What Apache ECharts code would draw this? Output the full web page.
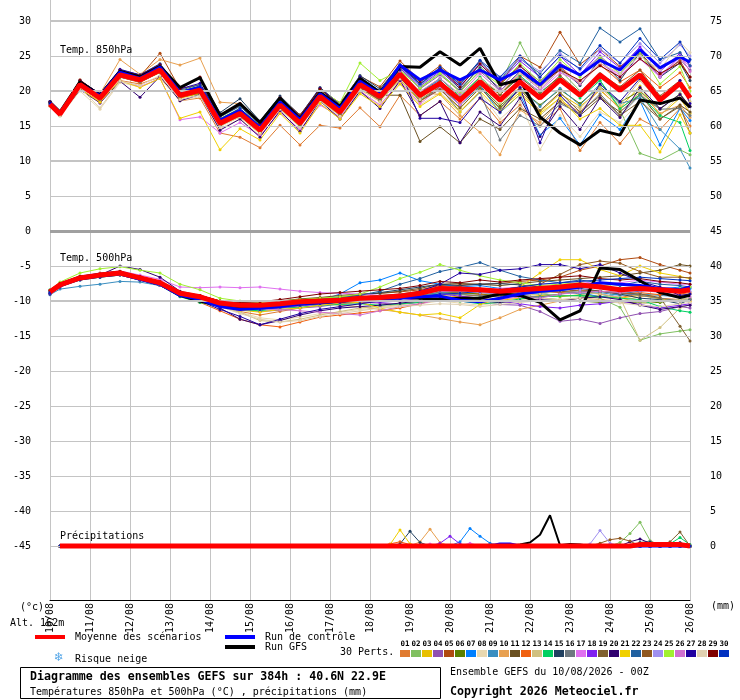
<!DOCTYPE html>
<html><head><meta charset="utf-8">
<script src="https://cdn.jsdelivr.net/npm/echarts@6/dist/echarts.min.js"></script>
<style>html,body{margin:0;padding:0;background:#fff}#c{width:740px;height:700px}</style>
</head><body><div id="c"></div>
<script>
// ---------- axes / categories ----------
const dateLabels = ['10/08','11/08','12/08','13/08','14/08','15/08','16/08','17/08','18/08','19/08','20/08','21/08','22/08','23/08','24/08','25/08','26/08'];
const hours = [0,6,18,30,42,54,66,78,90,102,114,126,138,150,162,174,186,198,210,222,234,246,258,270,282,294,306,318,330,342,354,366,378,384];
const precipHours = [6,192,198,204,210,216,222,228,234,240,246,252,258,264,270,276,282,288,294,300,306,312,318,324,330,336,342,348,354,360,366,372,378,384];
const leftTicks = [30,25,20,15,10,5,0,-5,-10,-15,-20,-25,-30,-35,-40,-45];
const rightTicks = [75,70,65,60,55,50,45,40,35,30,25,20,15,10,5,0];
const pertNames = ['01','02','03','04','05','06','07','08','09','10','11','12','13','14','15','16','17','18','19','20','21','22','23','24','25','26','27','28','29','30'];
const pertColors = ['#e07b30','#80c060','#e8c000','#9050b0','#b04a10','#5a8000','#0080ff','#e8d8b0','#3a8ec0','#e8a050','#6a5020','#f06010','#d0c080','#00d060','#204060','#6e7880','#e070f0','#8020f0','#806030','#300070','#f0d000','#2060a0','#905820','#a090f0','#a0f030','#d070d0','#2000a0','#e0d0b0','#800000','#0030c0'];

// ---------- 850 hPa temperature (°C) ----------
const mean850 = [18.1,16.7,20.9,19.0,22.3,21.6,23.0,19.4,20.1,15.4, 16.8,14.4,18.0,15.4,19.2,17.0,20.9,19.2,22.4,19.4, 21.1,18.7,21.3,18.7,21.3,19.0,21.6,19.4,22.3,20.1, 22.3,18.7,21.1,19.0];
const ctrl850 = [18.3,16.9,21.0,19.3,22.7,21.8,23.4,19.8,20.5,15.8, 17.2,14.8,18.4,15.9,19.6,17.5,21.4,19.6,23.7,21.6, 23.0,21.6,23.0,21.6,23.0,20.9,23.7,22.3,24.4,23.0, 25.9,23.3,24.9,24.1];
const gfs850 = [18.4,17.0,21.3,19.4,22.8,22.0,23.5,20.5,21.9,16.5, 18.2,15.5,19.0,16.0,19.8,17.8,21.8,19.8,23.5,23.4, 25.6,23.7,26.1,20.9,21.6,16.3,14.0,12.3,14.4,13.7, 18.7,18.2,19.0,17.7];
const t850_01 = [17.9,16.6,20.2,18.6,21.5,21.0,22.0,18.6,19.0,14.0, 13.4,11.9,15.1,12.3,15.1,14.7,17.6,14.9,19.4,16.5, 18.5,16.0,19.0,15.5,18.0,15.0,17.5,11.5,15.5,12.5, 16.0,14.5,17.5,15.0];
const t850_02 = [18.2,16.8,21.2,19.3,22.5,21.9,23.3,19.8,20.6,15.9, 17.4,14.9,18.6,15.8,19.9,17.6,21.8,19.9,23.0,20.5, 22.6,20.0,23.5,21.0,26.9,21.5,23.0,20.0,21.5,17.3, 11.1,10.1,11.6,10.9];
const t850_03 = [18.0,16.7,20.5,18.8,22.0,21.3,22.6,19.0,19.6,15.0, 16.3,13.9,17.5,14.9,18.6,16.5,20.2,18.5,21.6,18.5, 20.3,17.5,20.5,17.4,19.8,17.0,19.6,17.8,20.1,17.6, 20.7,16.5,19.0,16.8];
const t850_04 = [18.3,16.8,21.3,19.4,22.8,22.0,23.6,19.9,20.6,16.0, 17.5,15.0,18.8,16.2,20.0,17.8,21.8,20.0,23.3,20.3, 22.3,20.0,22.8,20.4,23.5,21.4,24.0,22.3,25.0,22.5, 25.4,22.0,24.5,23.0];
const t850_05 = [18.5,16.9,21.6,19.5,23.0,22.1,25.4,20.3,20.9,16.3, 17.9,15.2,19.1,16.6,20.2,18.3,22.1,20.6,24.3,21.5, 23.6,21.2,24.3,21.0,25.0,23.4,28.4,23.8,26.0,23.5, 25.5,22.4,24.3,22.0];
const t850_06 = [18.0,16.6,20.7,18.8,22.0,21.3,22.7,19.1,19.7,15.1, 16.4,14.1,17.6,15.0,18.8,16.6,20.4,18.7,21.9,18.8, 20.6,18.0,20.7,17.9,20.3,18.0,20.2,18.2,20.6,18.4, 20.0,17.4,19.6,17.8];
const t850_07 = [18.2,16.8,21.0,19.2,22.4,21.7,23.1,19.5,20.3,15.6, 17.0,14.6,18.2,15.6,19.5,17.3,21.2,19.6,22.9,19.8, 21.6,18.5,20.8,16.9,19.5,13.7,16.1,12.3,16.6,14.5, 18.6,12.3,17.5,15.8];
const t850_08 = [17.8,16.4,20.0,17.4,21.2,20.6,21.8,18.6,19.2,14.6, 16.0,13.6,17.0,14.4,18.2,16.0,19.8,18.0,21.2,18.0, 19.8,17.2,19.8,16.0,18.5,11.6,16.5,13.5,17.0,15.5, 18.5,16.5,19.5,17.0];
const t850_09 = [18.1,16.7,20.8,19.0,22.2,21.5,22.9,19.3,20.0,15.3, 16.7,14.3,17.9,15.3,19.0,16.9,20.7,19.0,22.1,19.0, 20.8,18.0,20.6,17.5,20.5,17.8,20.4,18.0,21.0,18.2, 19.0,14.5,11.7,9.0];
const t850_10 = [18.4,16.9,21.4,19.6,24.5,22.4,24.5,23.7,24.7,18.4, 18.2,15.5,19.0,16.2,20.4,18.0,21.6,19.5,22.8,19.8, 19.5,16.5,14.1,10.9,17.3,15.5,18.6,17.0,20.3,17.4, 19.8,16.8,18.0,16.2];
const t850_11 = [18.2,16.8,21.1,19.1,22.5,21.8,23.2,19.6,20.3,15.6, 17.0,14.6,18.3,15.5,19.4,17.2,21.2,19.4,19.4,12.8, 14.9,12.6,16.0,14.5,17.5,16.0,18.5,16.5,19.0,17.0, 19.5,16.0,18.0,17.0];
const t850_12 = [18.0,16.6,20.6,18.7,22.0,21.2,22.7,19.0,19.8,15.0, 16.4,14.0,17.6,15.0,18.8,16.5,20.5,18.6,21.8,19.0, 20.5,18.4,21.5,19.5,22.5,20.6,23.5,21.0,23.8,21.3, 23.0,20.5,22.6,20.5];
const t850_13 = [18.3,16.9,21.2,19.3,22.6,21.9,23.4,19.8,20.4,15.9, 17.3,14.9,18.5,15.9,19.7,17.5,21.4,19.7,22.9,19.9, 21.8,19.4,22.0,18.2,20.5,16.5,19.0,17.5,20.5,18.0, 21.5,18.5,21.0,18.5];
const t850_14 = [18.2,16.8,21.0,19.1,22.5,21.8,23.2,19.6,20.3,15.6, 17.0,14.6,18.2,15.6,19.4,17.2,21.1,19.4,22.6,19.8, 21.8,19.2,22.0,19.5,22.2,19.8,22.0,19.0,21.5,17.5, 19.5,16.5,15.5,11.5];
const t850_15 = [18.5,17.0,21.5,19.6,23.0,22.3,23.9,20.3,21.9,16.9, 18.9,15.7,19.3,16.5,20.5,18.1,22.2,20.3,23.8,21.0, 23.0,20.3,23.3,20.0,22.8,20.5,23.3,20.8,24.5,21.5, 25.5,22.0,24.0,21.5];
const t850_16 = [18.0,16.6,20.6,18.8,22.0,21.3,22.7,19.2,19.9,15.2, 16.5,14.2,17.8,15.2,19.0,16.7,20.5,18.8,22.0,18.6, 20.5,17.0,19.8,13.0,16.5,15.0,18.2,16.8,19.6,16.5, 19.4,17.4,17.5,16.5];
const t850_17 = [18.0,16.5,20.4,18.3,21.5,20.6,21.8,15.9,16.3,14.0, 15.5,13.6,17.0,14.5,18.0,16.3,20.0,18.0,21.4,18.2, 20.4,18.0,21.0,18.8,21.8,20.0,22.6,21.4,24.0,22.3, 24.6,22.0,24.8,23.5];
const t850_18 = [18.3,16.9,21.2,19.3,22.7,22.0,23.5,19.9,20.6,16.0, 17.4,15.0,18.7,16.1,19.8,17.6,21.6,19.9,23.3,20.7, 22.8,20.6,23.8,21.3,24.3,22.0,25.0,22.3,25.6,23.3, 26.3,22.8,25.4,23.6];
const t850_19 = [18.1,16.7,20.8,19.0,22.2,21.5,22.9,19.4,20.0,15.3, 16.7,14.3,17.8,15.2,18.9,16.7,20.5,18.7,21.9,18.6, 20.2,17.6,20.4,17.6,20.2,17.2,19.8,17.0,19.3,16.5, 18.5,16.0,17.8,14.0];
const t850_20 = [18.0,16.5,20.2,18.3,21.4,19.1,22.1,18.6,19.5,14.4, 16.0,13.4,17.2,14.2,18.6,16.0,20.0,17.5,21.5,16.5, 18.5,12.6,17.0,15.0,19.0,13.5,17.8,14.5,19.0,16.2, 20.5,17.5,19.5,17.8];
const t850_21 = [17.9,16.5,20.3,18.4,21.5,20.5,21.8,16.1,17.0,11.6, 14.6,13.0,16.8,14.0,18.2,16.0,19.6,17.8,21.0,17.8, 19.6,17.0,20.0,17.0,19.5,16.8,19.0,16.0,17.5,15.1, 15.1,11.3,16.6,14.0];
const t850_22 = [18.4,17.0,21.4,19.4,23.0,22.2,23.8,20.1,20.9,16.3, 17.8,15.2,18.9,16.3,20.3,17.9,22.0,20.0,23.6,20.8, 23.2,20.9,24.2,21.6,24.6,22.5,25.8,24.0,29.0,27.0, 28.9,24.5,25.5,23.6];
const t850_23 = [18.2,16.8,21.0,19.1,22.4,21.7,23.1,19.5,20.2,15.5, 16.9,14.5,18.1,15.5,19.3,17.1,21.0,19.3,22.5,19.6, 21.4,19.0,21.8,19.5,22.0,19.6,22.2,19.8,22.5,20.6, 23.0,19.3,21.5,19.3];
const t850_24 = [18.3,16.8,21.1,19.2,22.6,21.8,23.3,19.7,20.4,15.8, 17.2,14.9,18.6,16.0,19.9,17.7,21.7,20.0,23.4,20.8, 23.0,20.8,24.0,21.9,24.6,22.8,25.4,23.0,26.0,24.0, 26.8,24.0,26.6,25.0];
const t850_25 = [18.3,16.9,21.3,19.4,22.8,22.0,23.6,20.0,20.7,16.1, 17.5,15.1,18.8,16.4,20.2,18.3,24.0,21.5,23.0,20.4, 22.5,19.8,23.0,20.8,23.9,21.3,24.5,22.0,24.8,22.5, 25.5,21.0,23.5,20.0];
const t850_26 = [18.1,16.7,20.9,19.0,22.3,21.6,23.0,19.4,20.0,15.4, 16.8,14.5,18.1,15.5,19.4,17.3,21.2,19.5,22.7,19.9, 21.8,19.5,22.5,20.0,22.6,20.2,23.0,21.0,24.0,22.0, 24.6,22.2,25.0,22.8];
const t850_27 = [18.5,17.0,21.5,19.6,23.1,22.3,23.8,20.3,21.1,16.4, 18.1,15.3,19.0,16.4,20.4,18.0,22.0,19.8,23.0,16.1, 16.1,15.5,19.0,17.0,20.5,12.6,19.4,16.5,21.0,18.5, 21.8,18.5,21.5,18.2];
const t850_28 = [17.9,16.5,20.4,17.6,21.4,20.8,22.2,18.8,19.4,14.9, 16.3,14.0,17.4,14.8,18.6,16.4,20.2,18.5,21.7,18.8, 20.9,18.8,21.8,19.8,22.5,20.5,23.0,21.3,24.0,22.5, 25.0,23.0,27.0,25.5];
const t850_29 = [18.4,17.0,21.5,19.5,22.9,22.2,23.7,20.3,22.0,16.6, 18.2,15.4,19.0,16.4,20.3,17.8,21.7,19.9,23.5,21.3, 23.2,20.6,23.9,21.0,23.6,21.0,23.0,21.5,23.6,22.0, 24.6,22.5,24.0,22.0];
const t850_30 = [18.3,16.9,21.2,19.3,22.7,21.9,23.5,19.9,20.7,16.0, 17.5,15.0,18.7,16.1,19.9,17.7,21.7,19.8,23.5,21.0, 23.4,21.0,24.4,22.0,25.0,22.0,25.0,23.2,26.5,24.0, 27.5,24.5,27.0,24.5];

// ---------- 500 hPa temperature (°C) ----------
const mean500 = [-8.7,-7.7,-6.7,-6.3,-6.0,-6.7,-7.4,-8.9,-9.4,-10.3, -10.6,-10.6,-10.4,-10.1,-10.0,-9.9,-9.6,-9.5,-9.3,-8.9, -8.2,-8.3,-8.4,-8.6,-8.4,-8.2,-8.0,-7.7,-8.0,-8.4, -8.2,-8.4,-8.6,-8.4];
const ctrl500 = [-8.8,-7.8,-6.8,-6.4,-6.1,-6.9,-7.6,-9.2,-9.8,-10.8, -11.2,-11.0,-10.8,-10.4,-10.2,-10.0,-9.8,-9.6,-9.6,-9.4, -9.3,-9.9,-10.1,-9.6,-9.0,-8.6,-8.4,-8.0,-7.4,-7.6, -7.8,-8.2,-8.4,-8.0];
const gfs500 = [-8.6,-7.6,-6.6,-6.2,-5.9,-6.7,-7.5,-9.2,-10.0,-10.6, -10.8,-10.8,-10.6,-10.4,-10.2,-10.0,-9.8,-9.6,-9.4,-9.6, -9.8,-9.6,-9.6,-9.0,-9.2,-10.2,-12.7,-11.4,-5.3,-5.5, -7.1,-8.8,-9.5,-9.2];
const t500_01 = [-8.5,-7.5,-6.5,-6.0,-5.8,-6.5,-7.3,-8.7,-9.5,-10.7, -11.5,-12.0,-11.5,-11.0,-10.6,-10.3,-10.0,-9.6,-9.4,-9.0, -8.6,-8.9,-9.0,-9.4,-8.9,-8.7,-8.8,-8.5,-9.0,-9.5, -9.0,-9.6,-9.8,-10.0];
const t500_02 = [-8.8,-7.8,-6.8,-6.3,-6.0,-6.6,-7.5,-9.2,-9.6,-10.6, -10.9,-11.2,-10.8,-10.6,-10.2,-10.0,-9.8,-9.7,-9.5,-9.2, -8.8,-9.0,-9.3,-9.0,-8.8,-9.0,-9.2,-9.3,-9.6,-10.9, -15.6,-14.7,-14.3,-14.1];
const t500_03 = [-8.6,-7.5,-6.5,-6.2,-5.9,-6.6,-7.3,-8.8,-9.6,-10.5, -11.0,-11.1,-11.0,-10.7,-10.3,-10.4,-10.1,-9.9,-10.0,-9.6, -9.2,-9.4,-9.6,-9.9,-9.6,-9.2,-9.4,-9.1,-9.3,-9.6, -9.2,-9.7,-10.0,-10.1];
const t500_04 = [-8.8,-7.8,-6.9,-6.5,-6.1,-6.9,-7.5,-9.0,-9.8,-10.6, -11.2,-11.5,-11.3,-11.0,-10.8,-10.4,-10.2,-10.3,-10.5,-10.2, -9.8,-9.9,-10.2,-10.5,-10.6,-11.5,-12.9,-12.6,-13.2,-12.4, -11.8,-11.5,-10.8,-11.0];
const t500_05 = [-8.5,-7.5,-6.6,-6.1,-5.8,-6.5,-7.2,-8.6,-9.2,-10.0, -10.3,-10.4,-10.1,-9.8,-9.6,-9.4,-9.1,-8.9,-8.7,-8.4, -7.8,-7.7,-7.6,-7.5,-7.2,-7.0,-6.6,-5.6,-5.0,-4.1, -3.8,-4.8,-5.6,-6.0];
const t500_06 = [-8.7,-7.7,-6.7,-6.4,-6.1,-6.8,-7.5,-9.0,-9.5,-10.4, -10.7,-10.9,-10.6,-10.3,-10.2,-10.0,-9.8,-9.6,-9.5,-9.2, -8.7,-8.8,-9.0,-9.3,-9.4,-9.6,-9.8,-10.0,-10.2,-10.1, -10.3,-10.2,-9.8,-9.6];
const t500_07 = [-8.4,-7.5,-6.6,-6.2,-6.0,-6.6,-7.3,-8.8,-9.5,-10.6, -11.0,-11.2,-10.8,-10.4,-10.0,-9.0,-7.4,-7.0,-6.0,-7.1, -7.6,-8.0,-7.8,-8.2,-8.8,-9.0,-8.5,-8.8,-9.4,-9.0, -8.6,-8.3,-8.0,-8.2];
const t500_08 = [-8.9,-7.9,-6.9,-6.6,-6.3,-7.0,-7.7,-9.3,-9.8,-10.8, -11.6,-12.4,-12.7,-12.3,-11.8,-11.6,-11.2,-11.0,-10.6,-10.4, -10.0,-10.3,-10.6,-10.2,-9.8,-9.6,-9.8,-9.5,-9.9,-10.2, -10.4,-10.0,-9.8,-9.6];
const t500_09 = [-9.1,-8.3,-7.9,-7.6,-7.2,-7.3,-7.8,-9.2,-9.8,-10.7, -11.0,-11.0,-10.7,-10.4,-10.3,-10.1,-9.7,-9.8,-9.6,-9.3, -8.8,-8.6,-8.5,-8.9,-8.6,-8.8,-8.6,-9.0,-8.8,-9.2, -9.0,-9.2,-9.4,-9.0];
const t500_10 = [-8.6,-7.6,-6.6,-6.2,-5.9,-6.6,-7.3,-8.8,-9.3,-10.2, -10.5,-10.6,-10.5,-10.3,-10.4,-10.6,-10.8,-11.2,-11.6,-12.0, -12.5,-13.0,-13.4,-12.4,-11.2,-10.6,-10.0,-9.6,-9.8,-10.0, -9.4,-9.0,-9.2,-9.0];
const t500_11 = [-8.5,-7.6,-6.5,-6.1,-5.8,-6.5,-7.3,-8.8,-9.2,-10.0, -10.2,-10.1,-10.0,-9.7,-9.5,-9.2,-9.0,-8.9,-8.6,-8.2, -7.6,-7.5,-7.6,-7.8,-7.5,-7.2,-7.0,-6.8,-6.6,-6.4, -6.0,-5.6,-4.8,-5.0];
const t500_12 = [-8.6,-7.6,-6.8,-6.4,-6.2,-7.0,-7.8,-9.3,-10.2,-11.4, -12.6,-13.4,-13.7,-13.0,-12.3,-12.0,-11.7,-11.4,-11.0,-10.4, -9.6,-9.4,-9.1,-9.4,-9.0,-8.6,-8.8,-8.4,-8.6,-9.0, -8.8,-9.1,-9.0,-8.8];
const t500_13 = [-8.8,-7.8,-6.8,-6.4,-6.1,-6.8,-7.6,-9.1,-9.7,-10.8, -11.6,-12.8,-13.0,-12.6,-12.0,-11.5,-11.0,-10.8,-10.5,-10.0, -9.4,-9.6,-9.8,-9.6,-9.2,-9.0,-8.6,-8.8,-9.0,-9.5, -15.6,-13.8,-11.0,-10.5];
const t500_14 = [-8.9,-7.9,-7.0,-6.6,-6.3,-7.0,-7.8,-9.4,-10.2,-10.8, -11.2,-11.4,-11.0,-10.9,-10.6,-10.5,-10.4,-10.6,-10.4,-10.2, -9.8,-10.0,-10.4,-10.2,-9.7,-9.4,-9.3,-9.2,-9.4,-9.6, -9.8,-10.8,-11.4,-11.6];
const t500_15 = [-8.7,-7.6,-6.6,-6.2,-5.9,-6.6,-7.3,-8.9,-9.4,-10.3, -10.6,-10.6,-10.4,-10.2,-10.0,-9.6,-9.2,-8.8,-8.4,-8.0, -7.6,-7.8,-7.6,-7.5,-7.7,-8.0,-8.4,-8.2,-8.6,-9.0, -9.6,-9.8,-10.4,-9.8];
const t500_16 = [-8.6,-7.6,-6.7,-6.3,-6.0,-6.7,-7.5,-9.0,-9.5,-10.4, -10.8,-11.0,-10.8,-10.5,-10.3,-10.1,-9.9,-9.6,-9.6,-9.3, -9.0,-9.1,-9.2,-9.4,-9.2,-9.4,-9.0,-8.7,-8.6,-8.9, -9.2,-9.6,-10.0,-9.8];
const t500_17 = [-8.5,-7.5,-6.4,-6.0,-5.7,-6.3,-6.9,-8.0,-8.1,-8.0, -8.1,-8.0,-8.3,-8.6,-8.8,-8.9,-9.0,-9.2,-9.4,-9.1, -8.6,-8.7,-8.4,-8.2,-8.0,-7.6,-7.4,-7.2,-7.6,-7.4, -7.0,-7.3,-7.6,-7.6];
const t500_18 = [-8.8,-7.7,-6.8,-6.4,-6.1,-6.8,-7.5,-9.0,-9.7,-10.6, -11.0,-11.2,-11.0,-10.7,-10.5,-10.3,-10.0,-10.2,-10.0,-9.6, -9.0,-9.3,-9.6,-10.0,-10.4,-10.8,-11.0,-10.6,-10.4,-10.0, -10.5,-11.0,-10.6,-10.4];
const t500_19 = [-8.7,-7.7,-6.6,-6.2,-5.9,-6.6,-7.4,-8.9,-9.4,-10.3, -10.6,-10.7,-10.5,-10.2,-10.1,-9.9,-9.6,-9.5,-9.3,-9.0, -8.5,-8.6,-8.8,-9.0,-8.8,-8.6,-8.7,-8.4,-8.6,-8.8, -9.0,-9.5,-13.6,-15.7];
const t500_20 = [-9.0,-8.0,-6.9,-6.3,-5.0,-5.5,-6.6,-8.6,-9.6,-11.0, -12.6,-13.4,-12.8,-12.0,-11.4,-11.0,-10.8,-10.6,-10.3,-10.0, -9.6,-9.8,-10.0,-10.2,-10.0,-9.8,-10.0,-9.6,-9.4,-9.8, -10.6,-11.2,-10.8,-10.6];
const t500_21 = [-8.6,-7.6,-6.5,-6.1,-5.8,-6.6,-7.4,-8.9,-9.5,-10.6, -11.3,-11.6,-11.2,-11.0,-10.6,-10.3,-10.2,-11.0,-11.6,-12.0, -11.8,-12.4,-10.5,-9.6,-8.0,-6.0,-4.1,-4.1,-5.5,-6.4, -5.0,-6.0,-6.5,-6.8];
const t500_22 = [-8.6,-7.6,-6.6,-6.2,-5.9,-6.6,-7.4,-8.9,-9.4,-10.2, -10.5,-10.5,-10.3,-10.0,-9.7,-9.5,-9.2,-8.6,-7.6,-6.8, -5.8,-5.2,-4.5,-5.6,-6.5,-7.0,-7.4,-7.0,-7.4,-7.8, -7.2,-7.6,-7.8,-8.0];
const t500_23 = [-8.7,-7.7,-6.7,-6.3,-6.0,-6.7,-7.4,-8.9,-9.4,-10.3, -10.5,-10.5,-10.3,-10.0,-9.8,-9.6,-9.4,-9.2,-9.0,-8.6, -8.0,-8.0,-8.2,-8.4,-8.0,-7.6,-6.2,-4.8,-4.3,-4.6, -5.8,-6.6,-6.6,-6.7];
const t500_24 = [-8.8,-7.8,-6.8,-6.4,-6.1,-6.8,-7.6,-9.1,-9.6,-10.4, -10.8,-10.9,-10.6,-10.3,-10.1,-10.0,-9.7,-9.4,-9.1,-8.8, -8.4,-8.6,-8.8,-9.0,-8.6,-8.4,-8.2,-8.4,-8.0,-8.2, -8.6,-8.4,-8.2,-8.6];
const t500_25 = [-8.4,-7.3,-6.0,-5.4,-5.1,-5.6,-6.0,-7.6,-8.4,-9.6, -10.0,-10.2,-10.0,-9.8,-9.6,-9.4,-9.0,-8.0,-6.8,-5.9, -4.8,-5.6,-6.4,-7.0,-7.4,-7.8,-7.6,-7.4,-7.8,-7.6, -8.0,-8.4,-8.2,-8.0];
const t500_26 = [-8.9,-7.9,-6.9,-6.5,-6.2,-6.9,-7.7,-9.2,-9.7,-10.6, -11.0,-11.2,-11.2,-11.4,-11.6,-11.8,-12.0,-11.4,-10.8,-10.4, -9.8,-9.8,-10.0,-9.8,-9.4,-9.6,-9.0,-8.8,-8.6,-8.8, -8.4,-8.8,-9.2,-9.4];
const t500_27 = [-8.9,-7.9,-7.0,-6.6,-6.3,-7.0,-7.8,-9.3,-10.0,-11.2, -12.2,-13.4,-12.6,-11.8,-11.2,-10.8,-10.4,-10.0,-9.4,-8.6, -7.6,-6.0,-6.2,-5.6,-5.4,-4.8,-4.8,-5.4,-4.8,-6.0, -7.2,-8.0,-9.2,-9.0];
const t500_28 = [-8.7,-7.7,-6.8,-6.4,-6.2,-6.9,-7.7,-9.2,-9.8,-10.8, -11.8,-12.6,-13.0,-12.8,-12.2,-11.8,-11.4,-11.0,-10.8,-10.6, -10.4,-10.5,-10.8,-10.5,-10.2,-10.0,-9.8,-9.6,-9.9,-10.3, -10.6,-10.8,-10.4,-10.2];
const t500_29 = [-8.5,-7.5,-6.5,-6.1,-5.8,-6.5,-7.2,-8.7,-9.2,-10.0, -10.2,-10.1,-9.8,-9.4,-9.0,-8.8,-8.6,-8.4,-8.2,-7.8, -7.2,-7.4,-7.0,-7.3,-7.0,-6.8,-6.6,-6.4,-6.8,-7.0, -6.8,-7.2,-7.4,-7.6];
const t500_30 = [-8.8,-7.8,-6.8,-6.4,-6.1,-6.8,-7.6,-9.1,-9.7,-10.5, -11.0,-11.2,-10.9,-10.6,-10.4,-10.2,-10.0,-9.9,-9.7,-9.4, -9.0,-8.9,-8.6,-8.4,-8.0,-7.6,-7.4,-7.2,-7.0,-6.8, -6.6,-6.8,-7.0,-7.1];

// ---------- precipitation (mm), on precipHours ----------
const rrMean = [0, 0,0,0,0,0, 0,0,0,0,0, 0,0,0,0,0, 0,0,0,0,0, 0,0,0,0,0, 0,0,0.2,0.2,0.2, 0.2,0.2,0];
const rrCtrl = [0, 0,0,0,0,0, 0,0,0,0,0, 0,0,0,0.3,0.3, 0,0,0,0,0, 0,0,0,0,0, 0,0,0,0,0, 0,0,0];
const rrGfs  = [0, 0,0,0,0,0, 0,0,0,0,0, 0,0,0,0,0, 0.2,0.5,1.6,4.4,0.1, 0.3,0.2,0,0,0, 0,0,0,0,0, 0,0,0];
const rrDry  = [0, 0,0,0,0,0, 0,0,0,0,0, 0,0,0,0,0, 0,0,0,0,0, 0,0,0,0,0, 0,0,0,0,0, 0,0,0];
const rr02 = [0, 0,0,0,0,0, 0,0,0,0,0, 0,0,0,0,0, 0,0,0,0,0, 0,0,0,0,0, 0.5,1.8,3.4,0.8,0, 0,0,0];
const rr07 = [0, 0,0,0,0,0, 0,0,0,0,0.6, 2.5,1.4,0.4,0,0, 0,0,0,0,0, 0,0,0,0,0, 0,0,0,0,0, 0,0,0];
const rr10 = [0, 0,0,0,0,0, 0.6,2.4,0.5,0,0, 0,0,0,0,0, 0,0,0,0,0, 0,0,0,0,0, 0,0,0,0,0, 0,0,0];
const rr12 = [0, 0,0,0.3,0.6,0.2, 0,0,0,0,0, 0,0,0,0,0, 0,0,0,0,0, 0,0,0,0,0, 0,0,0,0,0, 0,0,0];
const rr13 = [0, 0,0,0,0,0, 0,0,0,0,0, 0,0,0,0,0, 0,0,0,0,0, 0,0,0,0,0, 0,0,0.5,0.7,0.2, 0,0,0];
const rr14 = [0, 0,0,0,0,0, 0,0,0,0,0, 0,0,0,0,0, 0,0,0,0,0, 0,0,0,0,0, 0,0,0,0,0, 0.3,1.2,0.2];
const rr15 = [0, 0,0,0,0.3,2.1, 0.5,0,0,0,0, 0,0,0,0,0, 0,0,0,0,0, 0,0,0,0,0, 0,0,0.5,0.6,0.3, 0.4,0.5,0];
const rr17 = [0, 0,0,0,0,0, 0,0.3,0,0,0, 0.4,0,0,0,0, 0,0,0,0,0, 0,0,0,0,0, 0,0,0,0,0, 0,0,0];
const rr18 = [0, 0,0,0,0,0, 0,0,0.4,1.4,0.3, 0,0,0,0,0, 0,0,0,0,0, 0,0,0,0,0, 0,0,0,0,0, 0,0,0];
const rr19 = [0, 0,0,0,0,0, 0,0,0,0,0, 0,0,0,0,0, 0,0,0,0,0, 0,0,0,0,0, 0,0,0,0,0, 0.6,2.0,0];
const rr20 = [0, 0,0,0,0,0, 0,0,0,0,0, 0,0,0,0,0, 0,0,0,0,0, 0,0,0,0,0, 0,0.6,1.0,0.4,0, 0,0,0];
const rr21 = [0, 0,0,0.2,2.3,0.3, 0,0,0,0,0, 0,0,0,0,0, 0,0,0,0,0, 0,0,0,0,0, 0,0,0,0,0, 0,0,0];
const rr23 = [0, 0,0,0,0,0, 0,0,0,0,0, 0,0,0,0,0, 0,0,0,0,0, 0,0,0,0.4,0.9, 1.1,0.7,0,0,0, 0,0,0];
const rr24 = [0, 0,0,0,0,0, 0,0,0,0,0, 0,0,0,0,0, 0,0,0,0,0, 0,0,0.3,2.2,0.4, 0,0,0,0,0, 0,0,0];

const pert850 = [t850_01,t850_02,t850_03,t850_04,t850_05,t850_06,t850_07,t850_08,t850_09,t850_10,t850_11,t850_12,t850_13,t850_14,t850_15,t850_16,t850_17,t850_18,t850_19,t850_20,t850_21,t850_22,t850_23,t850_24,t850_25,t850_26,t850_27,t850_28,t850_29,t850_30];
const pert500 = [t500_01,t500_02,t500_03,t500_04,t500_05,t500_06,t500_07,t500_08,t500_09,t500_10,t500_11,t500_12,t500_13,t500_14,t500_15,t500_16,t500_17,t500_18,t500_19,t500_20,t500_21,t500_22,t500_23,t500_24,t500_25,t500_26,t500_27,t500_28,t500_29,t500_30];
const pertRR = [rrDry,rr02,rrDry,rrDry,rrDry,rrDry,rr07,rrDry,rrDry,rr10,rrDry,rr12,rr13,rr14,rr15,rrDry,rr17,rr18,rr19,rr20,rr21,rrDry,rr23,rr24,rrDry,rrDry,rrDry,rrDry,rrDry,rrDry];

// horizontal reference lines (left-axis °C values) and their weight
const gridValues = [30,25,20,15,10,5,0,-5,-10,-15,-20,-25,-30,-35,-40,-45];
const gridWeights = [2,1,2,1,2,1,3,1,2,1,1,1,1,1,1,1];

// ---------- build ----------
const MONO = '"DejaVu Sans Mono", monospace';
const pairs = (xs, ys) => xs.map((x, i) => [x, ys[i]]);
function line(name, xs, ys, color, width, yAxisIndex, sym, z) {
  return {
    type: 'line', name, data: pairs(xs, ys), yAxisIndex, z,
    symbol: sym ? 'circle' : 'none', symbolSize: sym || 0, showSymbol: !!sym,
    lineStyle: { color, width }, itemStyle: { color },
    silent: true, animation: false, clip: true
  };
}
const series = [];
series.push({
  type: 'line', data: [[0, 30]], symbol: 'none', lineStyle: { opacity: 0 }, yAxisIndex: 0, z: 1, silent: true, animation: false,
  markLine: {
    symbol: 'none', silent: true, animation: false, label: { show: false },
    data: gridValues.map((v, i) => ({
      yAxis: v,
      lineStyle: { type: 'solid', color: gridWeights[i] === 3 ? '#a0a0a0' : '#c4c4c4', width: gridWeights[i] }
    }))
  }
});
for (let i = 0; i < 30; i++) {
  series.push(line('P' + pertNames[i], hours, pert850[i], pertColors[i], 1, 0, 3, 2));
  series.push(line('P' + pertNames[i], hours, pert500[i], pertColors[i], 1, 0, 3, 2));
  series.push(line('P' + pertNames[i], precipHours, pertRR[i], pertColors[i], 1, 1, 3, 2));
}
series.push(line('Run GFS', hours, gfs850, '#000000', 3, 0, 0, 3));
series.push(line('Run GFS', hours, gfs500, '#000000', 3, 0, 0, 3));
series.push(line('Run GFS', precipHours, rrGfs, '#000000', 2, 1, 0, 3));
series.push(line('Run de contrôle', hours, ctrl850, '#0000ff', 3, 0, 0, 4));
series.push(line('Run de contrôle', hours, ctrl500, '#0000ff', 3, 0, 0, 4));
series.push(line('Run de contrôle', precipHours, rrCtrl, '#0000ff', 3, 1, 0, 4));
series.push(line('Moyenne des scénarios', hours, mean850, '#ff0000', 5, 0, 0, 5));
series.push(line('Moyenne des scénarios', hours, mean500, '#ff0000', 5, 0, 0, 5));
series.push(line('Moyenne des scénarios', precipHours, rrMean, '#ff0000', 5, 1, 0, 5));

function txt(x, y, text, font, extra) {
  return Object.assign({ type: 'text', x, y, silent: true, z: 50,
    style: { text, font: font || ('10px ' + MONO), fill: '#000', verticalAlign: 'middle', align: 'left' } }, extra || {});
}
const graphics = [
  txt(60, 50, 'Temp. 850hPa'),
  txt(60, 258, 'Temp. 500hPa'),
  txt(60, 536, 'Précipitations'),
  txt(20, 607, '(°c)'),
  txt(711, 606, '(mm)'),
  txt(10, 623, 'Alt. 162m'),
  { type: 'rect', shape: { x: 35, y: 635, width: 30, height: 4 }, style: { fill: '#ff0000' }, silent: true },
  txt(75, 637, 'Moyenne des scénarios'),
  { type: 'rect', shape: { x: 225, y: 635, width: 30, height: 4 }, style: { fill: '#0000ff' }, silent: true },
  txt(265, 637, 'Run de contrôle'),
  { type: 'rect', shape: { x: 225, y: 645, width: 30, height: 4 }, style: { fill: '#000000' }, silent: true },
  txt(265, 647, 'Run GFS'),
  { type: 'text', x: 54, y: 658, silent: true, style: { text: '❄', font: '12px "DejaVu Sans"', fill: '#58a8e8', verticalAlign: 'middle' } },
  txt(75, 659, 'Risque neige'),
  txt(340, 652, '30 Perts.'),
  { type: 'rect', shape: { x: 20.5, y: 667.5, width: 420, height: 31 }, style: { fill: 'none', stroke: '#000', lineWidth: 1 }, silent: true },
  txt(30, 677, 'Diagramme des ensembles GEFS sur 384h : 40.6N 22.9E', 'bold 11.6px ' + MONO),
  txt(30, 692, 'Températures 850hPa et 500hPa (°C) , précipitations (mm)'),
  txt(450, 672, 'Ensemble GEFS du 10/08/2026 - 00Z'),
  txt(450, 692, 'Copyright 2026 Meteociel.fr', 'bold 11.6px ' + MONO)
];
pertNames.forEach((n, i) => {
  graphics.push({ type: 'rect', shape: { x: 400 + 11 * i, y: 650, width: 10, height: 7 }, style: { fill: pertColors[i] }, silent: true });
  graphics.push({ type: 'text', x: 405 + 11 * i, y: 644, silent: true,
    style: { text: n, font: 'bold 7.5px ' + MONO, fill: '#000', align: 'center', verticalAlign: 'middle' } });
});

const chart = echarts.init(document.getElementById('c'), null, { renderer: 'canvas' });
chart.setOption({
  animation: false,
  backgroundColor: '#ffffff',
  grid: { left: 50, right: 50, top: 0, bottom: 100, containLabel: false },
  xAxis: {
    type: 'value', min: 0, max: 384, interval: 24,
    axisLine: { show: true, onZero: false, lineStyle: { color: '#000', width: 1 } },
    axisTick: { show: false },
    splitLine: { show: true, lineStyle: { color: '#c4c4c4', width: 1 } },
    axisLabel: { rotate: 90, margin: 3, padding: [12, 0, 0, 0], fontFamily: '"DejaVu Sans Mono"', fontSize: 10, color: '#000',
      formatter: v => dateLabels[Math.round(v / 24)] || '' }
  },
  yAxis: [
    { type: 'value', min: -52.714, max: 33, position: 'left',
      axisLine: { show: false }, axisTick: { show: false }, splitLine: { show: false },
      axisLabel: { customValues: leftTicks, margin: 19, fontFamily: '"DejaVu Sans Mono"', fontSize: 10, color: '#000' } },
    { type: 'value', min: -7.714, max: 78, position: 'right',
      axisLine: { show: false }, axisTick: { show: false }, splitLine: { show: false },
      axisLabel: { customValues: rightTicks, margin: 20, fontFamily: '"DejaVu Sans Mono"', fontSize: 10, color: '#000' } }
  ],
  series,
  graphic: graphics
});
</script>
</body></html>
